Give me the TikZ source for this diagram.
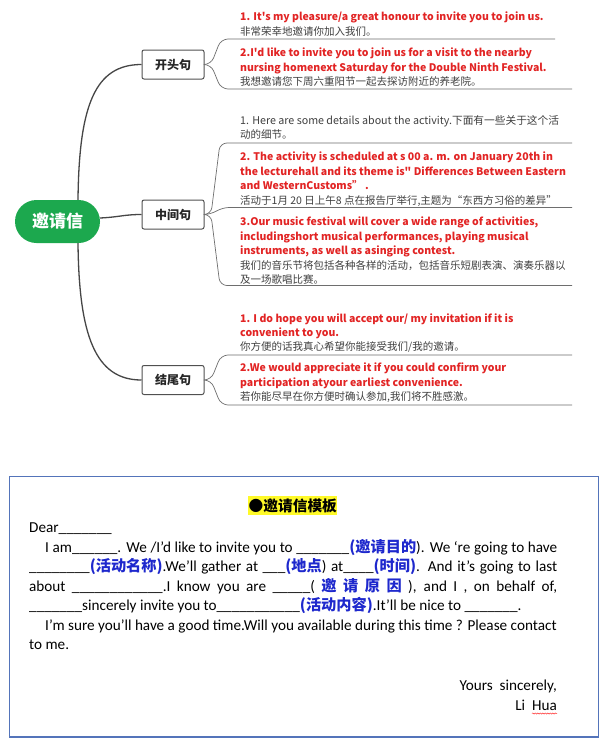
\documentclass[tikz,border=0pt]{standalone}
\usepackage{fontspec}
\setmainfont{Noto Sans CJK SC}[Ligatures=TeXOff]
\newfontfamily\cjk{Noto Sans CJK SC}
\newfontfamily\carl{Carlito}
\usetikzlibrary{calc,decorations.pathmorphing}
\definecolor{redt}{RGB}{226,36,36}
\definecolor{grayt}{RGB}{64,64,64}
\definecolor{linec}{RGB}{70,70,70}
\definecolor{fanc}{RGB}{110,110,110}
\definecolor{greenc}{RGB}{28,168,78}
\definecolor{boxc}{RGB}{80,80,80}
\definecolor{frame}{RGB}{84,116,186}
\definecolor{bluet}{RGB}{30,40,205}
\definecolor{hl}{RGB}{255,250,40}
\begin{document}
\begin{tikzpicture}[x=1pt,y=-1pt,
  rt/.style={anchor=base west, inner sep=0, text=redt, font=\fontsize{10.5}{13}\selectfont\bfseries},
  ct/.style={anchor=base west, inner sep=0, text=grayt, font=\fontsize{10.5}{12}\selectfont},
  gt/.style={anchor=base west, inner sep=0, text=grayt, font=\fontsize{10.7}{13}\selectfont},
  bt/.style={anchor=base west, inner sep=0, text=black, font=\carl\fontsize{15.2}{17}\selectfont},
  branch/.style={draw=boxc, line width=1pt, rounded corners=2pt, fill=white, minimum width=62pt, minimum height=29pt, inner sep=0, font=\fontsize{12}{14}\selectfont\bfseries, text=black!85},
  conn/.style={draw=linec, line width=1.3pt},
  fan/.style={draw=fanc, line width=0.7pt, rounded corners=7pt}]
\useasboundingbox (0,0) rectangle (607,744);
\fill[white] (0,0) rectangle (607,744);
\newcommand\zh[1]{{\cjk\bfseries\color{bluet}#1}}

% ---------- mind map ----------
\node[fill=greenc, rounded corners=21.5pt, minimum width=85pt, minimum height=43pt, inner sep=0, text=white, font=\fontsize{17}{20}\selectfont\bfseries] (root) at (57.5,221.5) {邀请信};
\node[branch] (k1) at (173,64.5) {开头句};
\node[branch] (k2) at (173,214.5) {中间句};
\node[branch] (k3) at (173,380) {结尾句};

\coordinate (rt) at ([xshift=20.5pt]root.north);
\coordinate (rb) at ([xshift=20.5pt]root.south);
\draw[conn] (rt) .. controls (79,105) and (95,64.5) .. (k1.west);
\draw[conn] ([yshift=3.5pt]root.east) .. controls (120,217) and (124,214.5) .. (k2.west);
\draw[conn] (rb) .. controls (79,335) and (95,380) .. (k3.west);

% fans
\coordinate (j1) at (211,64.5);
\coordinate (j2) at (211,214.5);
\coordinate (j3) at (211,380);
\draw[fan] (k1.east) -- (j1) -- (221,39) -- (555,39);
\draw[fan] (k1.east) -- (j1) -- (221,89) -- (572,89);
\draw[fan] (k2.east) -- (j2) -- (220,143) -- (572,143);
\draw[fan] (k2.east) -- (j2) -- (222,207.5) -- (572,207.5);
\draw[fan] (k2.east) -- (j2) -- (220,285.5) -- (572,285.5);
\draw[fan] (k3.east) -- (j3) -- (221,355) -- (572,355);
\draw[fan] (k3.east) -- (j3) -- (221,405) -- (572,405);

% texts: opening
\node[rt] (o1a) at (240,20) {1. It's my pleasure/a great honour to invite you to join us.};
\node[ct] (o1b) at (240,35) {非常荣幸地邀请你加入我们。};
\node[rt] (o2a) at (240,56) {2.I'd like to invite you to join us for a visit to the nearby};
\node[rt] (o2b) at (240,71) {nursing homenext Saturday for the Double Ninth Festival.};
\node[ct] (o2c) at (240,85.5) {我想邀请您下周六重阳节一起去探访附近的养老院。};

% middle
\node[gt] (m1a) at (240,124.5) {1. Here are some details about the activity.下面有一些关于这个活};
\node[ct] (m1b) at (240,138.5) {动的细节。};
\node[rt] (m2a) at (240,160) {2. The activity is scheduled at s 00 a. m. on January 20th in};
\node[rt] (m2b) at (240,175) {the lecturehall and its theme is" Differences Between Eastern};
\node[rt] (m2c) at (240,189.5) {and WesternCustoms” .};
\node[ct] (m2d) at (240,204) {活动于1月 20 日上午8 点在报告厅举行,主题为“东西方习俗的差异”};
\node[rt] (m3a) at (240,225) {3.Our music festival will cover a wide range of activities,};
\node[rt] (m3b) at (240,240) {includingshort musical performances, playing musical};
\node[rt] (m3c) at (240,254.5) {instruments, as well as asinging contest.};
\node[ct] (m3d) at (240,269) {我们的音乐节将包括各种各样的活动，包括音乐短剧表演、演奏乐器以};
\node[ct] (m3e) at (240,283) {及一场歌唱比赛。};

% ending
\node[rt] (e1a) at (240,322) {1. I do hope you will accept our/ my invitation if it is};
\node[rt] (e1b) at (240,336.5) {convenient to you.};
\node[ct] (e1c) at (240,350.5) {你方便的话我真心希望你能接受我们/我的邀请。};
\node[rt] (e2a) at (240,371) {2.We would appreciate it if you could confirm your};
\node[rt] (e2b) at (240,386) {participation atyour earliest convenience.};
\node[ct] (e2c) at (240,400.5) {若你能尽早在你方便时确认参加,我们将不胜感激。};

% ---------- template box ----------
\draw[draw=frame, line width=1.5pt] (9.5,476.5) rectangle (598.5,737);
\node[fill=hl, inner xsep=0.5pt, inner ysep=2pt, anchor=base west, font=\fontsize{14.7}{16}\selectfont\bfseries] (title) at (248,511) {●邀请信模板};

\node[bt] (l0) at (29,532) {Dear\_\_\_\_\_\_\_};
\node[bt] (l1) at (45,552) {\makebox[512pt][s]{I am\_\_\_\_\_\_. We /I’d like to invite you to \_\_\_\_\_\_\_\zh{(邀请目的}). We ‘re going to have}};
\node[bt] (l2) at (29,571) {\makebox[528pt][s]{\_\_\_\_\_\_\_\_\zh{(活动名称)}.We’ll gather at \_\_\_\zh{(地点}) at\_\_\_\_\zh{(时间)}. And it’s going to last}};
\node[bt] (l3) at (29,591) {\makebox[528pt][s]{about \_\_\_\_\_\_\_\_\_\_\_\_.I know you are \_\_\_\_\_( \zh{邀 请 原 因} ), and I , on behalf of,}};
\node[bt] (l4) at (29,610) {\_\_\_\_\_\_\_sincerely invite you to\_\_\_\_\_\_\_\_\_\_\_\zh{(活动内容)}.It’ll be nice to \_\_\_\_\_\_\_.};
\node[bt] (l5) at (45,630) {I’m sure you’ll have a good time.Will you available during this time ? Please contact};
\node[bt] (l6) at (29,649.5) {to me.};
\node[bt, anchor=base east] (l7) at (557,690) {Yours\ \ sincerely,};
\node[bt, anchor=base east] (l8) at (557,710) {Li\ \ Hua};
\draw[red!80, line width=0.5pt, decorate, decoration={snake, amplitude=0.6pt, segment length=2.5pt}] ([xshift=-25pt,yshift=-3.5pt]l8.base east) -- ([yshift=-3.5pt]l8.base east);
\end{tikzpicture}
\end{document}
